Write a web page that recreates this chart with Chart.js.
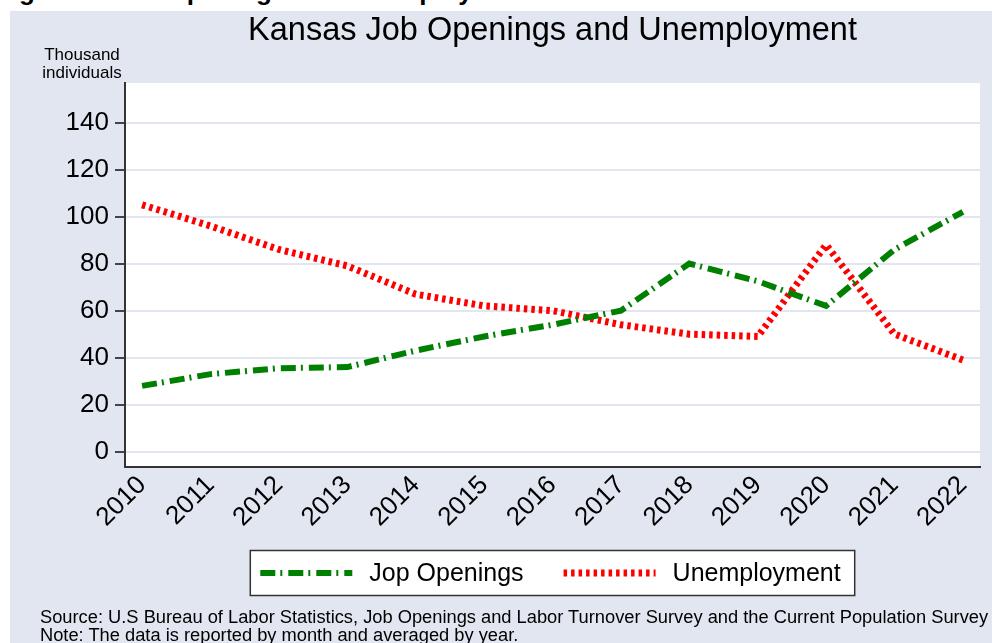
<!DOCTYPE html>
<html>
<head>
<meta charset="utf-8">
<script src="https://cdn.jsdelivr.net/npm/chart.js@4/dist/chart.umd.min.js"></script>
<style>
  body { margin: 0; background: #fff; width: 992px; height: 643px; overflow: hidden; position: relative; font-family: "Liberation Sans", Arial, sans-serif; }
  #heading { position: absolute; left: -4px; top: -22px; font-size: 26px; line-height: 26px; font-weight: bold; white-space: nowrap; color: #000; }
  #panel { position: absolute; left: 10px; top: 11px; width: 982px; height: 632px; background: #e1e6f0; }
  #notes { position: absolute; left: 40px; top: 608px; font-size: 18.3px; line-height: 18px; color: #000; white-space: nowrap; }
</style>
</head>
<body>
<div id="heading">Figure 1: Job Openings and Unemployment</div>
<div id="panel"><canvas id="jobsChart" width="982" height="632"></canvas></div>
<div id="notes">Source: U.S Bureau of Labor Statistics, Job Openings and Labor Turnover Survey and the Current Population Survey<br>Note: The data is reported by month and averaged by year.</div>
<script>
// Values (thousand individuals)
const years = [2010, 2011, 2012, 2013, 2014, 2015, 2016, 2017, 2018, 2019, 2020, 2021, 2022];
const jobOpenings = [28, 33, 35.5, 36, 43, 49, 54, 60, 80, 72.5, 62, 86, 102];
const unemployment = [105, 96, 86, 79, 67, 62, 60, 54, 50, 49, 88, 50, 39];
const yTicks = [0, 20, 40, 60, 80, 100, 120, 140];

Chart.defaults.font.family = "'Liberation Sans', Arial, sans-serif";
Chart.defaults.color = "#000";

function toPoints(values) {
    return years.map((yr, i) => ({ x: yr, y: values[i] }));
}

// White plot area, axis caption and a boxed legend drawn by hand
const backdrop = {
    id: "backdrop",
    beforeDraw(chart) {
        let ctx = chart.ctx;
        let a = chart.chartArea;
        ctx.save();
        ctx.fillStyle = "#fff";
        ctx.fillRect(a.left, a.top, a.right - a.left, a.bottom - a.top);
        ctx.restore();
    },
    afterDraw(chart) {
        let ctx = chart.ctx;
        let a = chart.chartArea;
        ctx.save();
        ctx.fillStyle = "#000";
        ctx.font = "17px 'Liberation Sans', Arial, sans-serif";
        ctx.textAlign = "center";
        ctx.textBaseline = "middle";
        ctx.fillText("Thousand", a.left - 43, 44);
        ctx.fillText("individuals", a.left - 43, 62);

        // legend
        let sample = 92, gapText = 17, gapItem = 40;
        ctx.font = "25px 'Liberation Sans', Arial, sans-serif";
        let sets = chart.data.datasets;
        let widths = sets.map(ds => sample + gapText + ctx.measureText(ds.label).width);
        let inner = widths.reduce((s, w) => s + w, 0) + gapItem * (sets.length - 1);
        let boxW = inner + 24;
        let boxX = (a.left + a.right) / 2 - boxW / 2;
        let yc = 562;
        ctx.fillStyle = "#fff";
        ctx.fillRect(boxX, yc - 22.5, boxW, 45);
        ctx.strokeStyle = "#333";
        ctx.lineWidth = 1.5;
        ctx.strokeRect(boxX, yc - 22.5, boxW, 45);

        let x = boxX + 10;
        sets.forEach((ds, i) => {
            ctx.save();
            ctx.strokeStyle = ds.borderColor;
            ctx.lineWidth = ds.borderWidth;
            ctx.setLineDash(ds.borderDash);
            ctx.beginPath();
            ctx.moveTo(x, yc);
            ctx.lineTo(x + sample, yc);
            ctx.stroke();
            ctx.restore();
            ctx.fillStyle = "#000";
            ctx.textAlign = "left";
            ctx.fillText(ds.label, x + sample + gapText, yc + 1);
            x += widths[i] + gapItem;
        });
        ctx.restore();
    }
};

let ctx = document.getElementById("jobsChart").getContext("2d");
new Chart(ctx, {
    type: "line",
    data: {
        datasets: [{
            label: "Jop Openings",
            data: toPoints(jobOpenings),
            borderColor: "#008000",
            borderWidth: 6,
            borderDash: [15, 5, 2, 6],
            pointRadius: 0,
            tension: 0,
            fill: false
        }, {
            label: "Unemployment",
            data: toPoints(unemployment),
            borderColor: "#ff0000",
            borderWidth: 7,
            borderDash: [3.5, 4],
            pointRadius: 0,
            tension: 0,
            fill: false
        }]
    },
    options: {
        responsive: false,
        animation: false,
        layout: { padding: { top: 0, left: 0, right: 12, bottom: 106 } },
        plugins: {
            title: {
                display: true,
                text: "Kansas Job Openings and Unemployment",
                fullSize: false,
                font: { size: 32.5, weight: "normal" },
                color: "#000",
                padding: { top: 1, bottom: 32 }
            },
            legend: { display: false },
            tooltip: { enabled: false }
        },
        scales: {
            x: {
                type: "linear",
                min: 2009.75,
                max: 2022.25,
                afterBuildTicks: scale => { scale.ticks = years.map(v => ({ value: v })); },
                afterFit: scale => { scale.height = 70; },
                grid: { display: false, drawTicks: false },
                border: { display: true, color: "#333", width: 2 },
                ticks: {
                    callback: v => String(v),
                    minRotation: 45,
                    maxRotation: 45,
                    padding: 3,
                    font: { size: 26 },
                    color: "#000"
                }
            },
            y: {
                min: -6.5,
                max: 156.8,
                afterBuildTicks: scale => { scale.ticks = yTicks.map(v => ({ value: v })); },
                afterFit: scale => { scale.width = 115; },
                grid: { color: "#e1e6f0", lineWidth: 2, tickColor: "#444", tickLength: 10, tickWidth: 2 },
                border: { display: true, color: "#333", width: 2 },
                ticks: {
                    padding: 6,
                    font: { size: 26 },
                    color: "#000"
                }
            }
        }
    },
    plugins: [backdrop]
});
</script>
</body>
</html>
